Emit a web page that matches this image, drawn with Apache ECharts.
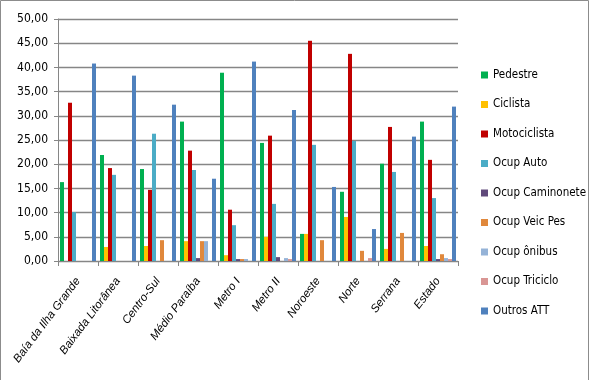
<!DOCTYPE html>
<html>
<head>
<meta charset="utf-8">
<script src="https://cdn.jsdelivr.net/npm/echarts@6/dist/echarts.min.js"></script>
<style>
html,body{margin:0;padding:0;background:#fff;}
#c{width:590px;height:380px;}
</style>
</head>
<body>
<div id="c"></div>
<script>
const categories = ['Baía da Ilha Grande','Baixada Litorânea','Centro-Sul','Médio Paraíba','Metro I','Metro II','Noroeste','Norte','Serrana','Estado'];
const pedestre   = [16.3, 21.9, 19.0, 28.8, 38.9, 24.4, 5.6, 14.3, 20.1, 28.8];
const ciclista   = [0, 2.9, 3.1, 4.1, 1.2, 5.0, 5.6, 9.1, 2.5, 3.1];
const motociclista = [32.7, 19.2, 14.7, 22.8, 10.6, 25.9, 45.5, 42.8, 27.7, 20.9];
const ocupAuto   = [10.1, 17.8, 26.3, 18.8, 7.4, 11.8, 24.0, 24.8, 18.4, 13.0];
const ocupCaminonete = [0, 0, 0, 0.6, 0.4, 0.8, 0, 0, 0, 0.4];
const ocupVeicPes = [0, 0, 4.3, 4.1, 0.4, 0, 4.3, 2.1, 5.8, 1.4];
const ocupOnibus = [0, 0, 0, 4.1, 0.4, 0.6, 0, 0, 0, 0.6];
const ocupTriciclo = [0, 0, 0, 0, 0, 0.4, 0, 0.6, 0, 0.4];
const outrosATT  = [40.8, 38.3, 32.3, 17.0, 41.2, 31.2, 15.3, 6.6, 25.7, 31.9];
const yTicks = [0, 50, 5];

const seriesNames = ['Pedestre','Ciclista','Motociclista','Ocup Auto','Ocup Caminonete','Ocup Veic Pes','Ocup ônibus','Ocup Triciclo','Outros ATT'];
const seriesData = [pedestre, ciclista, motociclista, ocupAuto, ocupCaminonete, ocupVeicPes, ocupOnibus, ocupTriciclo, outrosATT];
const colors = ['#00B050','#FFC000','#C00000','#4BACC6','#604A7B','#E0883C','#95B3D7','#D99694','#4F81BD'];

const FONT = "'DejaVu Sans Condensed', 'Liberation Sans Narrow', sans-serif";
const FONT_IT = "'Liberation Sans', Arial, sans-serif";
const chart = echarts.init(document.getElementById('c'));
chart.setOption({
  animation: false,
  color: colors,
  graphic: [{
    type: 'rect', silent: true, z: -1,
    shape: {x: 0.5, y: 0.5, width: 588, height: 420},
    style: {fill: 'none', stroke: '#8c8c8c', lineWidth: 1}
  }],
  grid: {left: 58, right: 132, top: 19, bottom: 119},
  legend: {
    orient: 'vertical', left: 476, top: 63,
    itemWidth: 7, itemHeight: 7, itemGap: 15.5, icon: 'rect',
    textStyle: {fontFamily: FONT, fontSize: 11.5, color: '#000', lineHeight: 14},
    data: seriesNames
  },
  xAxis: {
    type: 'category', data: categories,
    axisLine: {lineStyle: {color: '#868686', width: 1}},
    axisTick: {show: true, length: 5, lineStyle: {color: '#868686'}},
    axisLabel: {rotate: 53, fontFamily: FONT_IT, fontStyle: 'italic', fontSize: 11.5, color: '#000', margin: 18, interval: 0}
  },
  yAxis: {
    type: 'value', min: yTicks[0], max: yTicks[1], interval: yTicks[2],
    axisLine: {show: true, lineStyle: {color: '#868686', width: 1}},
    axisTick: {show: true, length: 4, lineStyle: {color: '#868686'}},
    splitLine: {lineStyle: {color: '#868686', width: 1.3}},
    axisLabel: {fontFamily: FONT, fontSize: 12, color: '#000', margin: 10,
      formatter: v => v.toFixed(2).replace('.', ',')}
  },
  series: seriesNames.map((n, i) => ({
    name: n, type: 'bar', data: seriesData[i],
    barGap: '0%', barCategoryGap: '10%'
  }))
});
</script>
</body>
</html>
